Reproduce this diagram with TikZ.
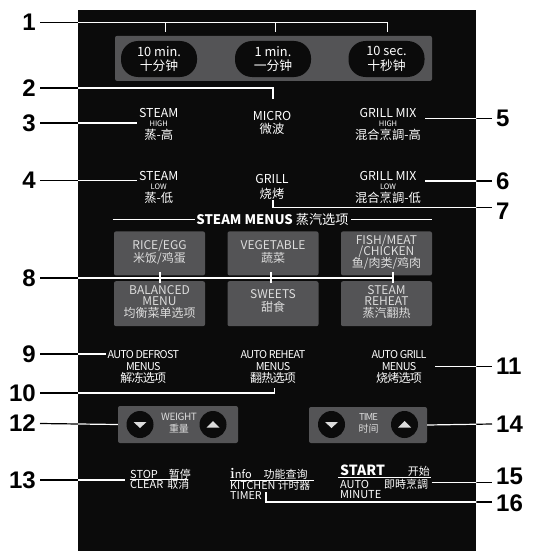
\documentclass[tikz,border=0pt]{standalone}
\usepackage{fontspec}
\usetikzlibrary{positioning, calc}
\newfontfamily\panelfont{Noto Sans CJK SC}
\newfontfamily\numfont{Liberation Sans}
\definecolor{PanelBlack}{HTML}{0B0B0B}
\definecolor{KeyGray}{HTML}{545456}
\definecolor{KeyText}{HTML}{DCDCDC}
\newcommand\modesize{\fontsize{7.5}{7.5}\selectfont}
\newcommand\leadline[1]{%
  \draw[lead] #1;
  \begin{scope}
    \clip (panel.north west) rectangle (panel.south east);
    \draw[lead, white] #1;
  \end{scope}}

\begin{document}
\begin{tikzpicture}[
    x=1pt, y=-1pt,
    num/.style={font=\numfont\fontsize{24}{24}\selectfont\bfseries,
                inner ysep=0pt, inner xsep=4pt},
    lead/.style={line width=1.2pt, black},
    lbl/.style={text=white, font=\panelfont\fontsize{12.3}{13}\selectfont,
                align=center, inner sep=0pt},
    keylbl/.style={lbl, text=KeyText, font=\panelfont\fontsize{12}{13}\selectfont},
    automenu/.style={lbl, font=\panelfont\fontsize{10.8}{12}\selectfont\addfontfeatures{LetterSpace=-6}},
    bottom/.style={lbl, anchor=west, align=left, font=\panelfont\fontsize{11}{12}\selectfont},
    uline/.style={white, line width=0.9pt},
    pill/.style={fill=PanelBlack, rounded corners=17pt,
                 minimum width=76pt, minimum height=36pt},
    menukey/.style={fill=KeyGray, rounded corners=2pt,
                    minimum width=91pt, minimum height=44pt},
    group/.style={fill=KeyGray, rounded corners=2pt},
    round/.style={circle, fill=PanelBlack, minimum size=27pt, inner sep=0pt}
]
\useasboundingbox (0,0) rectangle (535,551);

% Panel
\node[fill=PanelBlack, minimum width=398pt, minimum height=541pt,
      inner sep=0pt, anchor=north west] (panel) at (78,10) {};

% Time keys
\node[group, minimum width=317pt, minimum height=45pt] (timegrp) at (273.5,58.4) {};
\node[pill] (k10min) at (159,59) {};
\node[pill] (k1min) at (273,59) {};
\node[pill] (k10sec) at (386.5,59) {};
\node[lbl, font=\panelfont\fontsize{12.8}{14.5}\selectfont] at (k10min) {10 min.\\十分钟};
\node[lbl, font=\panelfont\fontsize{12.8}{14.5}\selectfont] at (k1min) {1 min.\\一分钟};
\node[lbl, font=\panelfont\fontsize{12.8}{14.5}\selectfont] at (k10sec) {10 sec.\\十秒钟};

% Cooking modes
\node[lbl] (steamhi) at (158.7,124.5) {STEAM\\[-4.5pt]{\modesize HIGH}\\[0.5pt]蒸-高};
\node[lbl] (micro) at (272,123) {MICRO\\[0pt]微波};
\node[lbl] (grillhi) at (388,124.5) {GRILL MIX\\[-4.5pt]{\modesize HIGH}\\[0.5pt]混合烹調-高};
\node[lbl] (steamlo) at (158.7,187.5) {STEAM\\[-4.5pt]{\modesize LOW}\\[0.5pt]蒸-低};
\node[lbl] (grill) at (272,186.5) {GRILL\\[2pt]烧烤};
\node[lbl] (grilllo) at (388,187.5) {GRILL MIX\\[-4.5pt]{\modesize LOW}\\[0.5pt]混合烹調-低};

% Steam menus
\node[lbl, font=\panelfont\fontsize{13.2}{14}\selectfont] (steammenus) at (272.5,219.4)
    {\textbf{STEAM MENUS} 蒸汽选项};
\draw[white, line width=1.1pt] (112.6,219.4) -- (194.5,219.4);
\draw[white, line width=1.1pt] (351,219.4) -- (432,219.4);

\node[menukey] (rice) at (159.5,253.4) {};
\node[menukey] (veg) at (273,253.4) {};
\node[menukey] (fish) at (386.5,253.4) {};
\node[menukey, minimum height=45pt] (balanced) at (159.5,303.7) {};
\node[menukey, minimum height=45pt] (sweets) at (273,303.7) {};
\node[menukey, minimum height=45pt] (reheat) at (386.5,303.7) {};
\node[keylbl] at ([yshift=1pt]rice) {RICE/EGG\\米饭/鸡蛋};
\node[keylbl] at ([yshift=1pt]veg) {VEGETABLE\\蔬菜};
\node[keylbl] at ([yshift=1pt]fish) {FISH/MEAT\\[-1.5pt]/CHICKEN\\[-1pt]鱼/肉类/鸡肉};
\node[keylbl] at ([yshift=1.5pt]balanced) {BALANCED\\[-1.5pt]MENU\\[-1pt]均衡菜单选项};
\node[keylbl] at ([yshift=3pt]sweets) {SWEETS\\甜食};
\node[keylbl] at ([yshift=1.5pt]reheat) {STEAM\\[-1.5pt]REHEAT\\[-1pt]蒸汽翻热};

% Auto menus
\node[automenu] (defrost) at (143.3,366.5)
    {AUTO DEFROST\\MENUS\\{\fontsize{12}{12}\selectfont 解冻选项}};
\node[automenu] (autoreheat) at (273,366.5)
    {AUTO REHEAT\\MENUS\\{\fontsize{12}{12}\selectfont 翻热选项}};
\node[automenu] (autogrill) at (399,366.5)
    {AUTO GRILL\\MENUS\\{\fontsize{12}{12}\selectfont 烧烤选项}};

% Weight / time
\node[group, minimum width=120pt, minimum height=37pt] (weight) at (178,424.5) {};
\node[group, minimum width=118pt, minimum height=36pt] (time) at (368,425) {};
\foreach \k/\x in {wdn/140, wup/213, tdn/331.5, tup/404.5}
    \node[round] (\k) at (\x,424.5) {};
\foreach \k in {wdn, tdn}
    \fill[KeyText] ($(\k)+(-6.5,-2.5)$) -- ($(\k)+(6.5,-2.5)$) -- ($(\k)+(0,3.5)$) -- cycle;
\foreach \k in {wup, tup}
    \fill[KeyText] ($(\k)+(-6.5,3)$) -- ($(\k)+(6.5,3)$) -- ($(\k)+(0,-3.5)$) -- cycle;
\node[keylbl, font=\panelfont\fontsize{10}{12}\selectfont\addfontfeatures{LetterSpace=-4}]
    at (179,423) {WEIGHT\\{\fontsize{10}{12}\selectfont 重量}};
\node[keylbl, font=\panelfont\fontsize{9.5}{12}\selectfont\addfontfeatures{LetterSpace=-10}]
    at (368.5,423.5) {TIME\\{\fontsize{10}{12}\selectfont\addfontfeatures{LetterSpace=0} 时间}};

% Bottom keys
\node[bottom] (stopclear) at (130,479)
    {STOP\hspace{11pt}暂停\\[-1.6pt]CLEAR\hspace{4pt}取消};
\draw[uline] (129.7,479.2) -- (187.7,479.2);
\node[bottom] (info) at (230,473.5)
    {{\normalfont\bfseries\fontsize{15}{15}\selectfont i}nfo\hspace{12pt}功能查询};
\node[bottom, font=\panelfont\fontsize{10.8}{12}\selectfont] (kitchen) at (230,490)
    {KITCHEN 计时器\\[-2.6pt]TIMER};
\draw[uline] (230,480) -- (314,480);
\node[bottom] (start) at (340,471)
    {{\fontsize{14}{14}\selectfont\bfseries START}\hspace{23pt}开始};
\node[bottom] (automin) at (340,488.6) {AUTO\hspace{15pt}即時烹調\\[-1.8pt]MINUTE};
\draw[uline] (338,477.8) -- (431,477.8);

% Numbers
\foreach \n/\y in {1/22.2, 2/88, 3/123, 4/180.5, 8/278, 9/354, 10/393, 12/423.5, 13/480}
    \node[num, anchor=east] (n\n) at (40,\y) {\n};
\foreach \n/\y in {5/118.5, 6/181, 7/211.5, 11/366.6, 14/424, 15/476, 16/503}
    \node[num, anchor=west] (n\n) at (492,\y) {\n};

% Leader lines
\leadline{(n1.east) -- (387.3,22.2)}
\leadline{(165.5,22.2) -- (165.5,32.4) (275.7,22.2) -- (275.7,32.4) (387.3,22.2) -- (387.3,32.4)}
\leadline{(n2.east) -- (273,88) -- (273,99)}
\leadline{(n3.east) -- (136.5,123)}
\leadline{(n4.east) -- (136.5,180.5)}
\leadline{(425,118.5) -- (n5.west)}
\leadline{(425,181) -- (n6.west)}
\leadline{(273,200) -- (273,207.8) -- (n7.west |- 0,207.8)}
\leadline{(n8.east) -- (394,278)}
\leadline{(160,272.4) -- (160,282.7) (271,272.4) -- (271,282.7) (393,272.4) -- (393,282.7)}
\leadline{(n9.east) -- (105.8,354)}
\leadline{(n10.east) -- (274.7,393) -- (274.7,387.8)}
\leadline{(435,366.6) -- (n11.west)}
\leadline{(n12.east) -- (weight.west)}
\leadline{(n13.east) -- (125.2,480)}
\leadline{(time.east) -- (n14.west)}
\leadline{(431.6,482.6) -- (n15.west |- 0,482.6)}
\leadline{(266,492) -- (266,502) -- (n16.west |- 0,502)}

\end{tikzpicture}
\end{document}
